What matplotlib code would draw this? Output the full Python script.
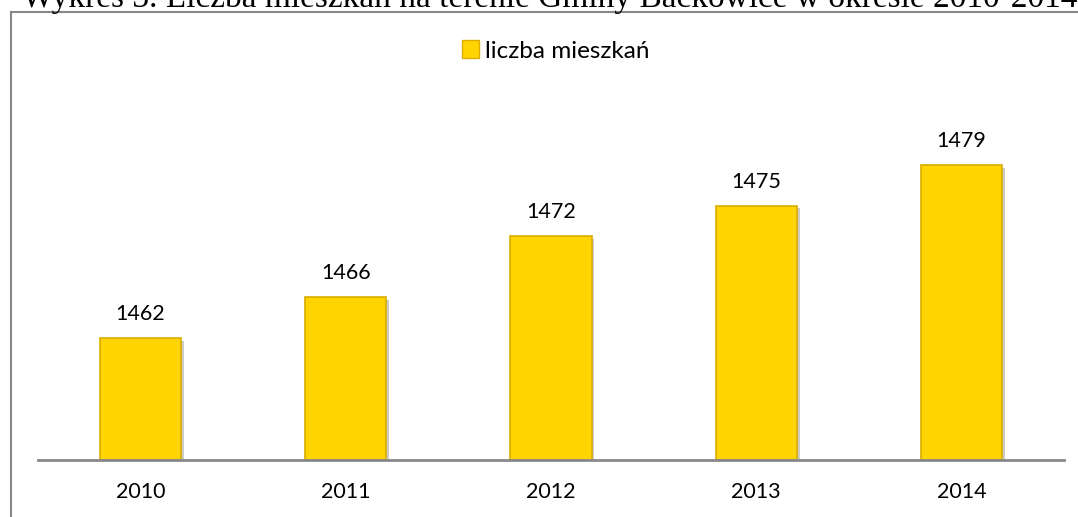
import matplotlib
matplotlib.use("Agg")
import matplotlib.pyplot as plt
import matplotlib.patheffects as pe
from matplotlib.lines import Line2D
from matplotlib.patches import Rectangle

years = ["2010", "2011", "2012", "2013", "2014"]
values = [1462, 1466, 1472, 1475, 1479]
series_name = "liczba mieszkań"
title = "Wykres 3. Liczba mieszkań na terenie Gminy Baćkowice w okresie 2010-2014"

W, H = 1078, 517
fig = plt.figure(figsize=(W / 100, H / 100), dpi=100)

# axes in pixel positions: x 38..1064, y baseline 460, top 100
ax = fig.add_axes([38 / W, (H - 460) / H, (1064 - 38) / W, (460 - 100) / H])
ymin = 1450
ymax = ymin + (460 - 100) / 10.18
ax.set_ylim(ymin, ymax)
ax.set_xlim(-0.5, len(years) - 0.5)

bar_color = "#FFD400"
edge_color = "#D9AE00"
bars = ax.bar(range(len(years)), [v - ymin for v in values], bottom=ymin,
              width=0.395, color=bar_color, edgecolor=edge_color, linewidth=1.2,
              zorder=3)
for b in bars:
    b.set_path_effects([pe.SimplePatchShadow(offset=(2, -2), shadow_rgbFace="#999999", alpha=0.5),
                        pe.Normal()])

for i, v in enumerate(values):
    ax.annotate(str(v), (i, v), xytext=(0, 10), textcoords="offset points",
                ha="center", va="bottom", fontsize=15.5, family="Lato", color="#000000")

ax.set_xticks(range(len(years)))
ax.set_xticklabels(years, fontsize=15.5, family="Lato")
ax.tick_params(axis="x", length=0, pad=16)
ax.set_yticks([])
for s in ["left", "right", "top"]:
    ax.spines[s].set_visible(False)
ax.spines["bottom"].set_color("#888888")
ax.spines["bottom"].set_linewidth(2)
ax.spines["bottom"].set_zorder(4)

# legend
leg = ax.legend([Rectangle((0, 0), 1, 1, facecolor=bar_color, edgecolor=edge_color)],
                [series_name], loc="center", bbox_to_anchor=(556 / W, (H - 51) / H),
                bbox_transform=fig.transFigure, frameon=False,
                prop={"family": "Lato", "size": 17.5}, handlelength=0.7, handleheight=0.7,
                handletextpad=0.25)

# outer frame (left and top lines)
fig.add_artist(Line2D([10.5 / W, 10.5 / W], [0, (H - 12) / H], color="#888888", lw=1.5))
fig.add_artist(Line2D([10.5 / W, 1], [(H - 12) / H, (H - 12) / H], color="#888888", lw=1.5))

# cut-off title
fig.text(22 / W, (H - 7) / H, title, ha="left", va="baseline", fontsize=24,
         family="Liberation Serif", color="#000000")

fig.savefig("out.png", dpi=100)
